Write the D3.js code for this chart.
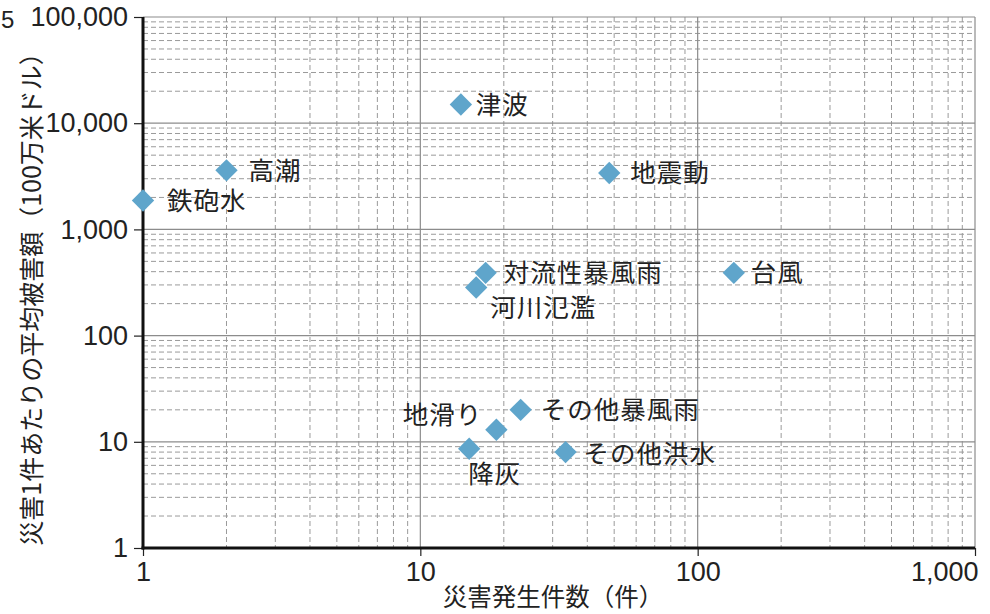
<!DOCTYPE html>
<html>
<head>
<meta charset="utf-8">
<script src="https://cdn.jsdelivr.net/npm/d3@7"></script>
<style>
  body { margin: 0; background: #fff; }
  text { font-family: "Liberation Sans", Arial, sans-serif; fill: #222; }
  .jp { font-family: "Noto Sans CJK JP", sans-serif; }
</style>
</head>
<body>
<div id="chart"></div>
<script>
// chart data
const hazards = ['鉄砲水', '高潮', '津波', '地震動', '対流性暴風雨', '河川氾濫', '台風', 'その他暴風雨', '地滑り', '降灰', 'その他洪水'];
const counts = [1, 2, 14, 48, 17.2, 15.9, 135, 23, 18.8, 15, 33.4];
const avgLoss = [1870, 3600, 15000, 3400, 390, 284, 390, 20, 13, 8.6, 8];

const xTickVals = [1, 10, 100, 1000];
const yTickVals = [1, 10, 100, 1000, 10000, 100000];

// where each label sits relative to its marker
const labelPlace = {
  '鉄砲水': [24, 0, 'start'], '高潮': [22, 0, 'start'], '津波': [15, 0, 'start'],
  '地震動': [21, 0, 'start'], '対流性暴風雨': [18, 0, 'start'], '河川氾濫': [14, 20, 'start'],
  '台風': [17, 0, 'start'], 'その他暴風雨': [20, 0, 'start'], '地滑り': [-14, -15, 'end'],
  '降灰': [-1, 25, 'start'], 'その他洪水': [18, 2, 'start']
};

const svgWidth = 990, svgHeight = 614;
const plotLeft = 143, plotRight = 975, plotTop = 17, plotBottom = 548;

const svg = d3.select('#chart').append('svg')
  .attr('width', svgWidth)
  .attr('height', svgHeight);

const x = d3.scaleLog().domain([1, 1000]).range([plotLeft, plotRight]);
const y = d3.scaleLog().domain([1, 100000]).range([plotBottom, plotTop]);

// minor grid (dashed)
const xMinor = x.ticks().filter(d => !xTickVals.includes(d));
const yMinor = y.ticks().filter(d => !yTickVals.includes(d));

const grid = svg.append('g');
grid.selectAll('.xminor').data(xMinor).enter().append('line')
  .attr('x1', d => x(d)).attr('x2', d => x(d))
  .attr('y1', plotTop).attr('y2', plotBottom)
  .attr('stroke', '#9a9a9a').attr('stroke-width', 1).attr('stroke-dasharray', '5,3');
grid.selectAll('.yminor').data(yMinor).enter().append('line')
  .attr('x1', plotLeft).attr('x2', plotRight)
  .attr('y1', d => y(d)).attr('y2', d => y(d))
  .attr('stroke', '#9a9a9a').attr('stroke-width', 1).attr('stroke-dasharray', '5,3');

// major grid (solid)
grid.selectAll('.xmajor').data(xTickVals.slice(1)).enter().append('line')
  .attr('x1', d => x(d)).attr('x2', d => x(d))
  .attr('y1', plotTop).attr('y2', plotBottom)
  .attr('stroke', '#8c8c8c').attr('stroke-width', 1.2);
grid.selectAll('.ymajor').data(yTickVals.slice(1)).enter().append('line')
  .attr('x1', plotLeft).attr('x2', plotRight)
  .attr('y1', d => y(d)).attr('y2', d => y(d))
  .attr('stroke', '#8c8c8c').attr('stroke-width', 1.2);

// axes
const fmt = d3.format(',');
const xAxis = svg.append('g')
  .attr('transform', 'translate(0,' + plotBottom + ')')
  .call(d3.axisBottom(x).tickValues(xTickVals).tickFormat(fmt).tickSize(8).tickPadding(6));
const yAxis = svg.append('g')
  .attr('transform', 'translate(' + plotLeft + ',0)')
  .call(d3.axisLeft(y).tickValues(yTickVals).tickFormat(fmt).tickSize(9).tickPadding(6));

[xAxis, yAxis].forEach(function(g) {
  g.select('.domain').remove();
  g.selectAll('.tick line').attr('stroke', '#222').attr('stroke-width', 1.2);
  g.selectAll('.tick text').attr('font-size', '27px').attr('fill', '#222')
    .attr('font-family', '"Liberation Sans", Arial, sans-serif');
});
xAxis.selectAll('.tick text').filter(d => d === 1000).attr('text-anchor', 'end').attr('dx', 3);

svg.append('line').attr('x1', plotLeft).attr('x2', plotLeft).attr('y1', plotTop).attr('y2', plotBottom + 1.5)
  .attr('stroke', '#111').attr('stroke-width', 3);
svg.append('line').attr('x1', plotLeft - 1.5).attr('x2', plotRight).attr('y1', plotBottom).attr('y2', plotBottom)
  .attr('stroke', '#111').attr('stroke-width', 3);

// points
const points = hazards.map((h, i) => ({name: h, n: counts[i], loss: avgLoss[i]}));
const diamond = d3.symbol().type(d3.symbolSquare).size(250);

svg.selectAll('.pt').data(points).enter().append('path')
  .attr('d', diamond)
  .attr('transform', d => 'translate(' + x(d.n) + ',' + y(d.loss) + ') rotate(45)')
  .attr('fill', '#5fa5cb');

svg.selectAll('.lbl').data(points).enter().append('text')
  .attr('class', 'jp')
  .attr('x', d => x(d.n) + labelPlace[d.name][0])
  .attr('y', d => y(d.loss) + labelPlace[d.name][1])
  .attr('dy', '0.36em')
  .attr('text-anchor', d => labelPlace[d.name][2])
  .attr('font-size', '25.5px')
  .attr('letter-spacing', '1px')
  .text(d => d.name);

// axis titles
svg.append('text')
  .attr('class', 'jp')
  .attr('x', 553)
  .attr('y', 606)
  .attr('text-anchor', 'middle')
  .attr('font-size', '24.5px')
  .text('災害発生件数（件）');

svg.append('text')
  .attr('class', 'jp')
  .attr('transform', 'translate(41,293) rotate(-90)')
  .attr('text-anchor', 'middle')
  .attr('font-size', '25px')
  .text('災害1件あたりの平均被害額（100万米ドル）');

// figure number peeking in at the corner
svg.append('text')
  .attr('x', 1).attr('y', 28)
  .style('font-size', '24px')
  .text('5');
</script>
</body>
</html>
